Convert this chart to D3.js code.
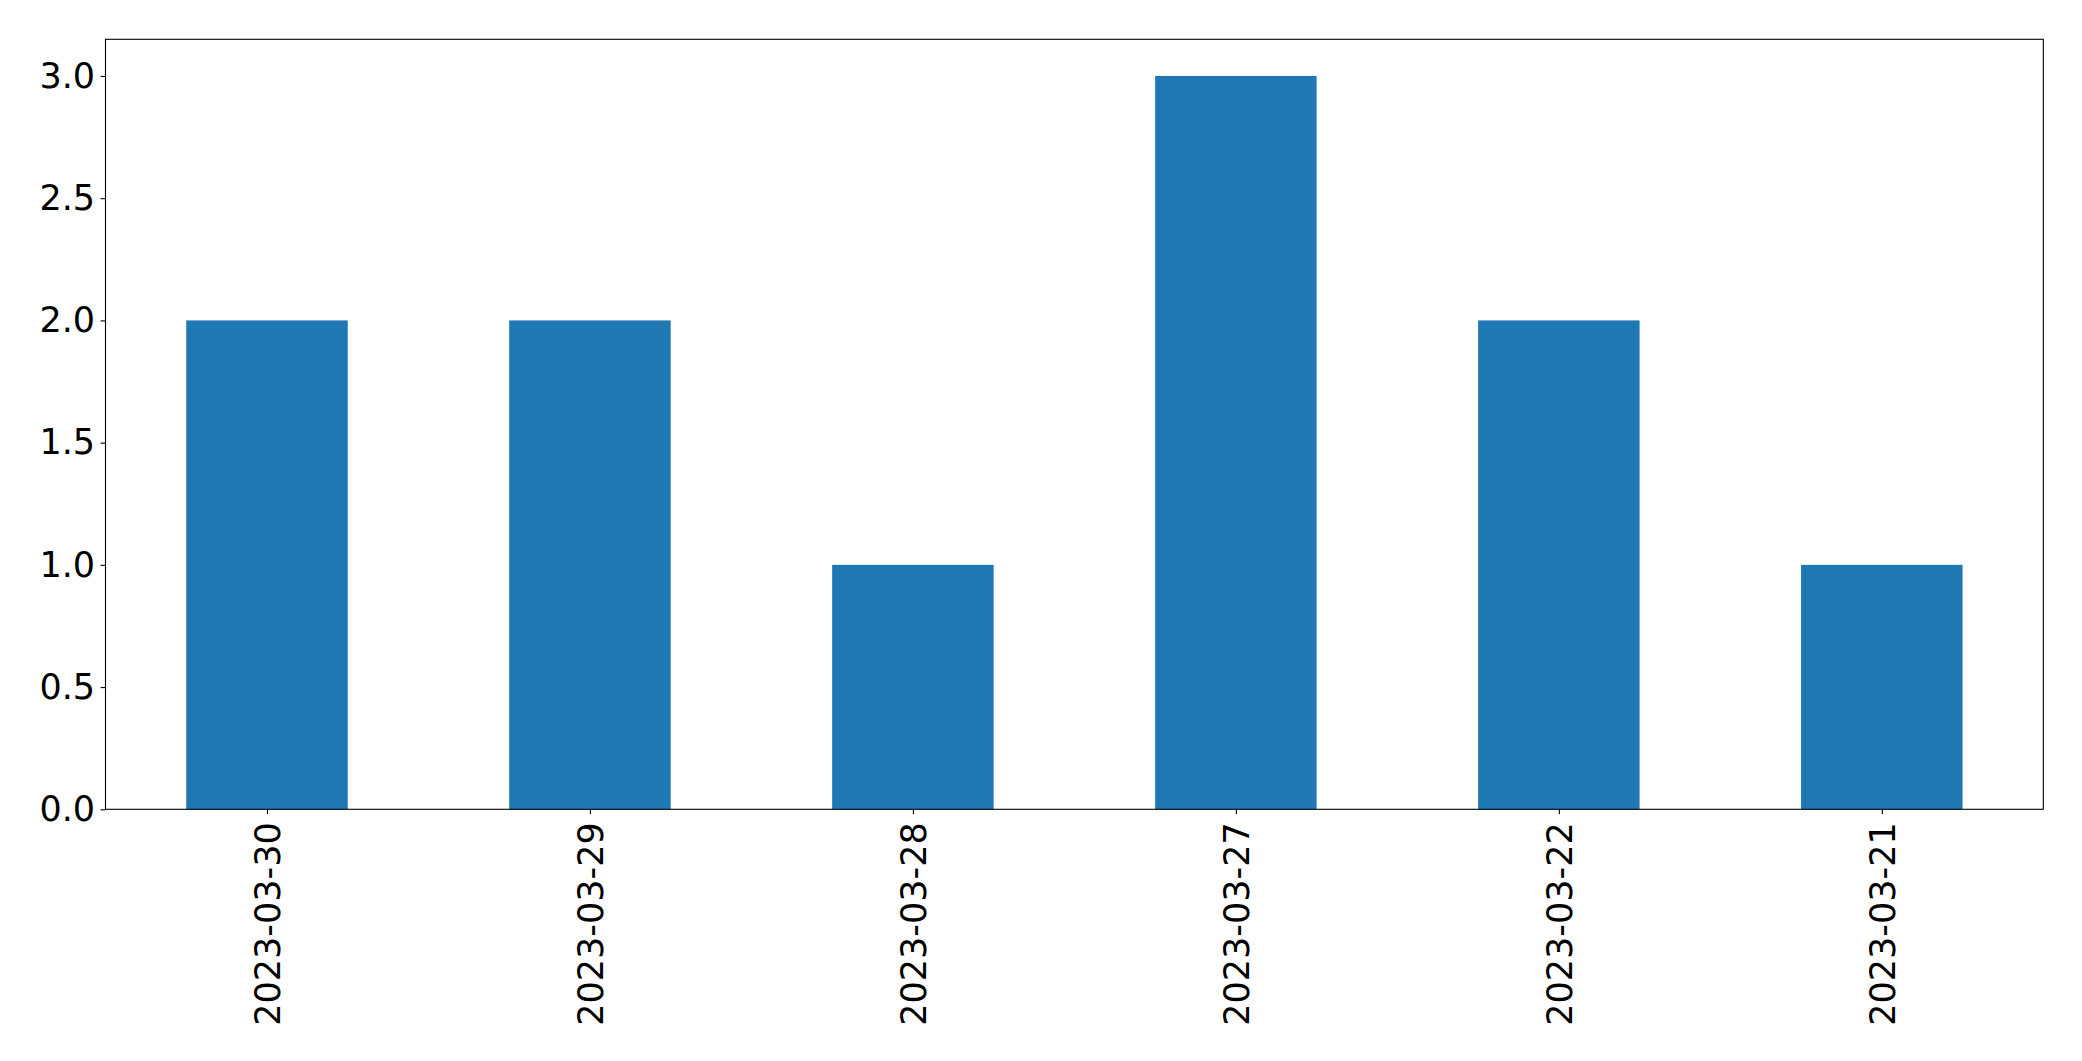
<!DOCTYPE html>
<html>
<head>
<meta charset="utf-8">
<script src="https://cdn.jsdelivr.net/npm/d3@7"></script>
<style>
html, body { margin: 0; padding: 0; background: #fff; }
svg { display: block; }
</style>
</head>
<body>
<script>
const categories = ["2023-03-30", "2023-03-29", "2023-03-28", "2023-03-27", "2023-03-22", "2023-03-21"];
const values = [2, 2, 1, 3, 2, 1];
const yTicks = [0, 0.5, 1.0, 1.5, 2.0, 2.5, 3.0];

const W = 2082, H = 1061;
const margin = {left: 105.5, right: 2082 - 2043.3, top: 39.3, bottom: 1061 - 809.3};
const fontSize = 35;
const font = "'DejaVu Sans', sans-serif";

const svg = d3.select("body").append("svg").attr("width", W).attr("height", H);

const x = d3.scaleLinear().domain([-0.5, categories.length - 0.5]).range([margin.left, W - margin.right]);
const y = d3.scaleLinear().domain([0, d3.max(values) * 1.05]).range([H - margin.bottom, margin.top]);

svg.append("g").selectAll("rect").data(values).join("rect")
  .attr("x", (d, i) => x(i - 0.25))
  .attr("width", (d, i) => x(i + 0.25) - x(i - 0.25))
  .attr("y", d => y(d))
  .attr("height", d => y(0) - y(d))
  .attr("fill", "#1f77b4");

const yAxis = d3.axisLeft(y).tickValues(yTicks).tickFormat(d3.format(".1f")).tickSizeOuter(0).tickSize(4.9).tickPadding(5.5);
const gy = svg.append("g").attr("transform", `translate(${margin.left},0)`).call(yAxis);
gy.select(".domain").remove();
gy.attr("font-size", null).attr("font-family", null);
gy.selectAll("line").attr("stroke", "#000").attr("stroke-width", 1.1);
gy.selectAll("text").style("font-family", font).style("font-size", fontSize + "px").attr("fill", "#000");

const xAxis = d3.axisBottom(x).tickValues(d3.range(categories.length)).tickFormat(i => categories[i]).tickSizeOuter(0).tickSize(4.9);
const gx = svg.append("g").attr("transform", `translate(0,${H - margin.bottom})`).call(xAxis);
gx.select(".domain").remove();
gx.attr("font-size", null).attr("font-family", null);
gx.selectAll("line").attr("stroke", "#000").attr("stroke-width", 1.1);
gx.selectAll("text")
  .style("font-family", font).style("font-size", fontSize + "px").attr("fill", "#000")
  .attr("transform", "rotate(-90)")
  .attr("text-anchor", "end")
  .attr("x", -13)
  .attr("y", 0)
  .attr("dy", "0.35em");

svg.append("rect")
  .attr("x", margin.left).attr("y", margin.top)
  .attr("width", W - margin.right - margin.left)
  .attr("height", H - margin.bottom - margin.top)
  .attr("fill", "none").attr("stroke", "#000").attr("stroke-width", 1.1);
</script>
</body>
</html>
